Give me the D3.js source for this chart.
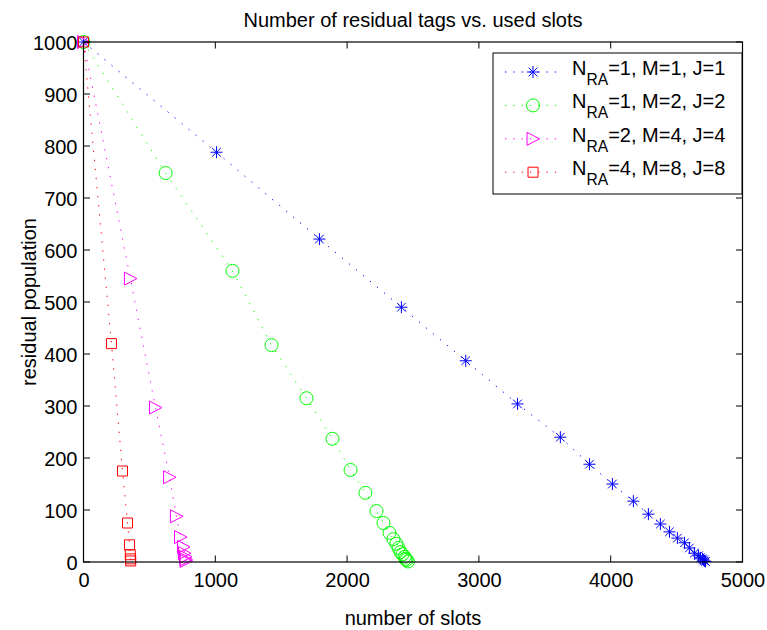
<!DOCTYPE html>
<html>
<head>
<meta charset="utf-8">
<script src="https://cdn.jsdelivr.net/npm/d3@7"></script>
<style>
  html, body { margin: 0; padding: 0; background: #fff; }
  svg { display: block; }
  text { font-family: "Liberation Sans", Arial, Helvetica, sans-serif; fill: #000; }
</style>
</head>
<body>
<svg id="chart" width="767" height="630"></svg>
<script>
// ---------- data ----------
const blueX  = [0, 1009, 1790, 2412, 2900, 3293, 3618, 3839, 4013, 4172, 4286, 4377, 4446, 4506, 4560, 4597, 4635, 4666, 4681, 4696, 4704, 4711, 4719];
const blueY  = [1000, 788, 621, 490, 387, 304, 240, 188, 150, 117, 92, 73, 58, 46, 37, 27, 17, 12, 8, 6, 4, 2, 1];
const greenX = [0, 623, 1130, 1427, 1692, 1889, 2026, 2139, 2223, 2276, 2322, 2352, 2374, 2390, 2405, 2420, 2436, 2443, 2451, 2462];
const greenY = [1000, 748, 560, 417, 315, 237, 177, 133, 98, 75, 56, 44, 35, 27, 19, 15, 10, 6, 4, 1];
const magX   = [0, 356, 546, 653, 705, 736, 759, 766, 774, 777, 779];
const magY   = [1000, 545, 297, 163, 88, 48, 29, 17, 10, 5, 2];
const redX   = [0, 212, 296, 334, 349, 355, 357, 358];
const redY   = [1000, 420, 175, 75, 33, 14, 6, 2];

const xTicks = [0, 1000, 2000, 3000, 4000, 5000];
const yTicks = [0, 100, 200, 300, 400, 500, 600, 700, 800, 900, 1000];
const legendRest = ["=1, M=1, J=1", "=1, M=2, J=2", "=2, M=4, J=4", "=4, M=8, J=8"];
const titleText = "Number of residual tags vs. used slots";
const xLabelText = "number of slots";
const yLabelText = "residual population";

const series = [
  { xs: blueX,  ys: blueY,  color: "#0000ff", marker: "star" },
  { xs: greenX, ys: greenY, color: "#00ff00", marker: "circle" },
  { xs: magX,   ys: magY,   color: "#ff00ff", marker: "triangle" },
  { xs: redX,   ys: redY,   color: "#ff0000", marker: "square" }
];

// ---------- layout ----------
const L = 83.5, R = 742.5, T = 42, B = 562;
const svg = d3.select("#chart");
const x = d3.scaleLinear().domain([0, 5000]).range([L, R]);
const y = d3.scaleLinear().domain([0, 1000]).range([B, T]);
const fmt = d3.format("d");

function markerPath(type) {
  if (type === "star") {
    const a = 6, d = 4.3;
    return `M${-a},0L${a},0M0,${-a}L0,${a}M${-d},${-d}L${d},${d}M${-d},${d}L${d},${-d}`;
  }
  if (type === "circle") return d3.arc()({innerRadius: 0, outerRadius: 6.5, startAngle: 0, endAngle: 2 * Math.PI});
  if (type === "triangle") return "M-6,-6.5L-6,6.5L6.5,0Z";
  if (type === "square") return "M-5,-5L5,-5L5,5L-5,5Z";
}

// ---------- series ----------
const line = d3.line().x(d => x(d[0])).y(d => y(d[1]));
series.forEach(s => {
  const pts = s.xs.map((v, i) => [v, s.ys[i]]);
  const g = svg.append("g");
  g.append("path")
    .attr("d", line(pts))
    .attr("fill", "none")
    .attr("stroke", s.color)
    .attr("stroke-width", 1)
    .attr("stroke-dasharray", "1.3,7.8");
  g.selectAll("path.m").data(pts).enter().append("path")
    .attr("class", "m")
    .attr("transform", d => `translate(${x(d[0])},${y(d[1])})`)
    .attr("d", markerPath(s.marker))
    .attr("fill", "none")
    .attr("stroke", s.color)
    .attr("stroke-width", 1);
});

// ---------- axes ----------
const tickLen = 6.5;
const frame = svg.append("g");
frame.append("rect")
  .attr("x", L).attr("y", T).attr("width", R - L).attr("height", B - T)
  .attr("fill", "none").attr("stroke", "#000").attr("stroke-width", 1.2);

const xAxis = d3.axisBottom(x).tickValues(xTicks).tickFormat(fmt).tickSize(0).tickPadding(0);
const xg = svg.append("g").attr("transform", `translate(0,${B})`).call(xAxis);
xg.select(".domain").remove();
xg.selectAll("text").attr("font-size", 20).attr("dy", null).attr("y", 25)
  .style("font-family", "'Liberation Sans', Arial, Helvetica, sans-serif");
xTicks.forEach(v => {
  frame.append("line").attr("x1", x(v)).attr("x2", x(v)).attr("y1", B).attr("y2", B - tickLen).attr("stroke", "#000");
  frame.append("line").attr("x1", x(v)).attr("x2", x(v)).attr("y1", T).attr("y2", T + tickLen).attr("stroke", "#000");
});

const yAxis = d3.axisLeft(y).tickValues(yTicks).tickFormat(fmt).tickSize(0).tickPadding(6);
const yg = svg.append("g").attr("transform", `translate(${L},0)`).call(yAxis);
yg.select(".domain").remove();
yg.selectAll("text").attr("font-size", 20).attr("dy", "0.35em")
  .style("font-family", "'Liberation Sans', Arial, Helvetica, sans-serif");
yTicks.forEach(v => {
  frame.append("line").attr("y1", y(v)).attr("y2", y(v)).attr("x1", L).attr("x2", L + tickLen).attr("stroke", "#000");
  frame.append("line").attr("y1", y(v)).attr("y2", y(v)).attr("x1", R).attr("x2", R - tickLen).attr("stroke", "#000");
});
svg.selectAll(".tick text").attr("fill", "#000");

// ---------- labels ----------
svg.append("text").attr("x", (L + R) / 2).attr("y", 27).attr("text-anchor", "middle")
  .attr("font-size", 20).text(titleText);
svg.append("text").attr("x", (L + R) / 2).attr("y", 625).attr("text-anchor", "middle")
  .attr("font-size", 20).text(xLabelText);
svg.append("text").attr("transform", `translate(36,${(T + B) / 2}) rotate(-90)`)
  .attr("text-anchor", "middle").attr("font-size", 20).text(yLabelText);

// ---------- legend ----------
const lg = svg.append("g");
lg.append("rect").attr("x", 493).attr("y", 53).attr("width", 249).attr("height", 141)
  .attr("fill", "#fff").attr("stroke", "#000").attr("stroke-width", 1);
series.forEach((s, i) => {
  const by = 75 + i * 33.4;
  const my = by - 3;
  lg.append("line").attr("x1", 505).attr("x2", 562).attr("y1", my).attr("y2", my)
    .attr("stroke", s.color).attr("stroke-width", 1).attr("stroke-dasharray", "1.3,7");
  lg.append("path").attr("transform", `translate(533,${my})`).attr("d", markerPath(s.marker))
    .attr("fill", "none").attr("stroke", s.color).attr("stroke-width", 1);
  const t = lg.append("text").attr("x", 572).attr("y", by).attr("font-size", 20);
  t.append("tspan").text("N");
  t.append("tspan").attr("dy", 10).attr("font-size", 15.6).text("RA");
  t.append("tspan").attr("dy", -10).text(legendRest[i]);
});
</script>
</body>
</html>
